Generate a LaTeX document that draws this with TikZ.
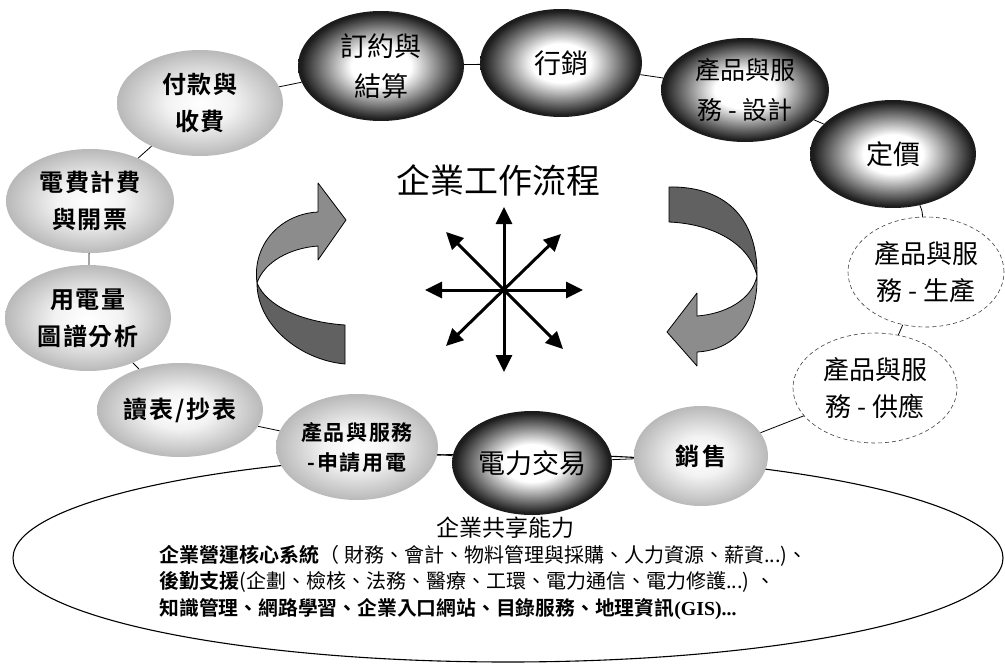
\documentclass[tikz,border=0pt]{standalone}
\usepackage{fontspec}
\setmainfont{Liberation Serif}
\newfontfamily\cjk{Noto Sans CJK TC}
\newfontfamily\cjkb{Noto Sans CJK TC Bold}[LetterSpace=8]
\newfontfamily\cjkbb{Noto Sans CJK TC Bold}
\newfontfamily\lserb{Liberation Serif Bold}
\usetikzlibrary{shapes.geometric,arrows.meta}
\pgfdeclareradialshading{darkball}{\pgfpoint{0bp}{0bp}}{color(0bp)=(white); color(9bp)=(white); color(24bp)=(black!88); color(31bp)=(black); color(50bp)=(black)}
\pgfdeclareradialshading{lightball}{\pgfpoint{0bp}{0bp}}{color(0bp)=(white); color(10bp)=(black!5); color(28bp)=(black!32); color(36bp)=(black!42); color(50bp)=(black!46)}
\definecolor{ribfront}{gray}{0.55}
\definecolor{ribback}{gray}{0.38}
\tikzset{
  darknode/.style={ellipse, shading=darkball, inner sep=0pt, align=center,
    font=\cjk\fontsize{27}{40}\selectfont},
  lightnode/.style={ellipse, shading=lightball, inner sep=0pt, align=center,
    font=\cjkb\fontsize{24}{37}\selectfont},
  dashnode/.style={ellipse, draw=black!75, dashed, dash pattern=on 4pt off 3pt, line width=0.6pt,
    fill=white, inner sep=0pt, align=center, font=\cjk\fontsize{26}{37}\selectfont},
  sz/.style 2 args={minimum width=#1pt, minimum height=#2pt},
  conn/.style={line width=0.8pt},
  star/.style={line width=3pt, {Triangle[length=17pt,width=16pt]}-{Triangle[length=17pt,width=16pt]}},
  ribbon/.style={draw=black, line width=0.8pt, line join=round},
}
\begin{document}
\begin{tikzpicture}[x=1pt,y=-1pt]
\useasboundingbox[fill=white] (0,0) rectangle (1005,664);

% shared capability base
\node[ellipse, draw, line width=1.1pt, fill=white, minimum width=990pt, minimum height=208pt] (base) at (508,558) {};

% process nodes
\node[lightnode, sz={166}{106}] (pay) at (200,103) {付款與\\收費};
\node[lightnode, sz={168}{104}] (bill) at (90,201) {電費計費\\與開票};
\node[lightnode, sz={166}{106}] (usage) at (88,318) {用電量\\圖譜分析};
\node[lightnode, sz={166}{94}] (read) at (180,410) {讀表/抄表};
\node[lightnode, sz={162}{106}, font=\cjkb\fontsize{21}{30}\selectfont] (apply) at (357,447) {產品與服務\\-申請用電};
\node[darknode, sz={160}{104}] (trade) at (532,463) {電力交易};
\node[lightnode, sz={134}{100}] (sales) at (701,456) {銷\hspace{3pt}售};
\node[dashnode, sz={164}{110}] (supply) at (875,388) {產品與服\\務 - 供應};
\node[dashnode, sz={156}{110}] (produce) at (926,272) {產品與服\\務 - 生產};
\node[darknode, sz={166}{108}] (price) at (893,154) {定價};
\node[darknode, sz={168}{104}, font=\cjk\fontsize{25}{40}\selectfont] (design) at (745,90) {產品與服\\務 - 設計};
\node[darknode, sz={162}{108}] (market) at (561,63) {行銷};
\node[darknode, sz={166}{110}] (contract) at (381,66) {訂約與\\結算};

% connectors
\draw[conn] (pay) -- (contract);
\draw[conn] (pay) -- (bill);
\draw[conn] (bill) -- (usage);
\draw[conn] (usage) -- (read);
\draw[conn] (read) -- (apply);
\draw[conn] (apply) -- (trade);
\draw[conn] (trade) -- (sales);
\draw[conn] (sales) -- (supply);
\draw[conn] (supply) -- (produce);
\draw[conn] (price) to[bend left=12] (produce);
\draw[conn] (price) -- (design);
\draw[conn] (design) -- (market);
\draw[conn] (market) -- (contract);

% title
\node[font=\cjk\fontsize{34}{38}\selectfont] (title) at (498,180) {企業工作流程};

% star of arrows
\coordinate (c) at (504,290);
\coordinate (up) at (504,207);
\coordinate (down) at (504,372);
\coordinate (left) at (425,290);
\coordinate (right) at (583,290);
\coordinate (nw) at (446,232);
\coordinate (ne) at (561,234);
\coordinate (sw) at (446,346);
\coordinate (se) at (563,349);
\draw[star] (up) -- (down);
\draw[star] (left) -- (right);
\draw[star] (nw) -- (se);
\draw[star] (ne) -- (sw);

% left ribbon arrow (upward, pointing right)
\path[ribbon, fill=ribback] (257,283) .. controls (257,325) and (300,360) .. (345,364)
  -- (345,325) .. controls (300,322) and (266,305) .. cycle;
\path[ribbon, fill=ribfront] (257,283) .. controls (252,245) and (280,214) .. (318,212)
  -- (318,183) -- (346,220) -- (318,260) -- (318,246)
  .. controls (290,248) and (264,262) .. cycle;

% right ribbon arrow (downward, pointing left)
\path[ribbon, fill=ribback] (669,187) .. controls (722,186) and (758,215) .. (757,276)
  .. controls (750,245) and (715,224) .. (669,222) -- cycle;
\path[ribbon, fill=ribfront] (757,276) .. controls (758,322) and (735,350) .. (697,352)
  -- (697,366) -- (667,332) -- (697,293) -- (697,316)
  .. controls (725,314) and (752,300) .. cycle;

% shared capability text
\node[font=\cjk\fontsize{23}{26}\selectfont] (shared) at (505,528) {企業共享能力};
\node[anchor=west, font=\cjk\fontsize{20}{22}\selectfont] (line1) at (156,556)
  {{\cjkbb 企業營運核心系統}（ 財務、會計、物料管理與採購、人力資源、薪資...)、};
\node[anchor=west, font=\cjk\fontsize{20}{22}\selectfont] (line2) at (156,582)
  {{\cjkbb 後勤支援}(企劃、檢核、法務、醫療、工環、電力通信、電力修護...) 、};
\node[anchor=west, font=\cjkbb\fontsize{19.8}{22}\selectfont] (line3) at (156,609)
  {知識管理、網路學習、企業入口網站、目錄服務、地理資訊{\lserb(GIS)...}};
\end{tikzpicture}
\end{document}
